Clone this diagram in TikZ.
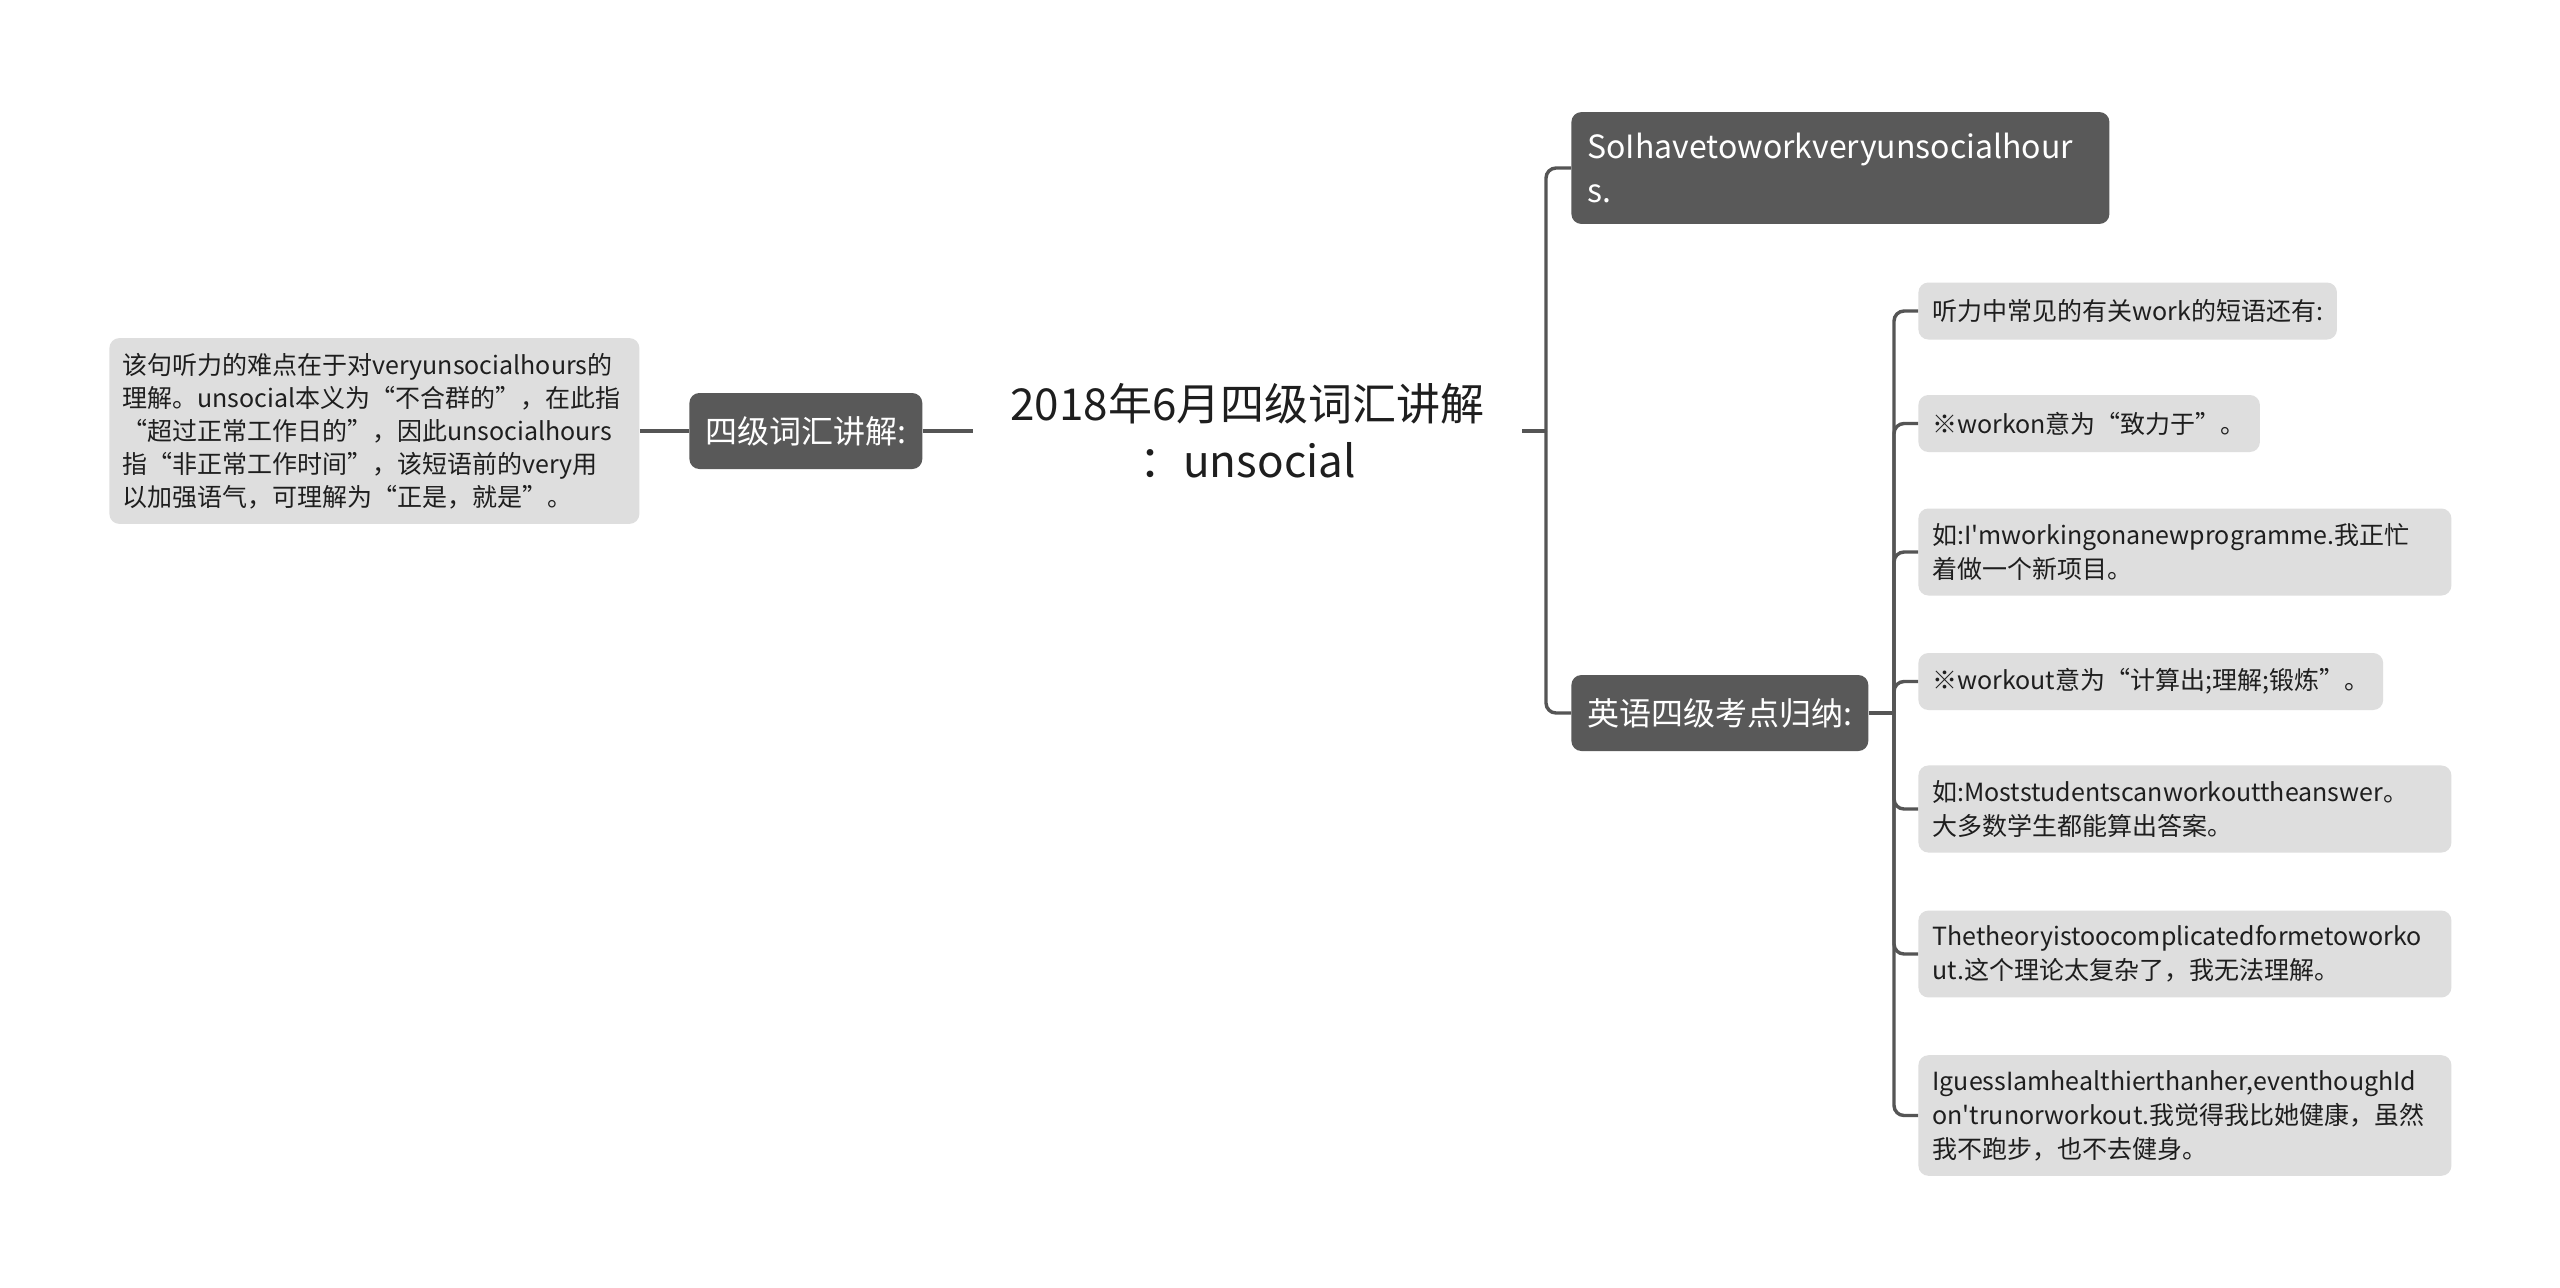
\documentclass[tikz,border=0pt]{standalone}
\usepackage{fontspec}
\setmainfont{Noto Sans CJK SC}[Ligatures=TeXOff]
\usepackage{tikz}
\usetikzlibrary{positioning}
\definecolor{topicGray}{HTML}{595959}
\definecolor{leafGray}{HTML}{DEDEDE}
\definecolor{branchLine}{HTML}{555555}
\definecolor{inkText}{HTML}{1E1E1E}

\begin{document}
\begin{tikzpicture}[x=0.5pt, y=-0.5pt,
  topic/.style={fill=topicGray, rounded corners=5pt, text=white, font=\fontsize{16}{22}\selectfont, inner xsep=8pt, inner ysep=10.5pt, minimum height=38pt, anchor=west, align=left},
  leaf/.style={fill=leafGray, rounded corners=5pt, text=inkText, font=\fontsize{12.5}{17}\selectfont, inner xsep=7pt, inner ysep=7.5pt, minimum height=28.5pt, anchor=west, align=left},
  branch/.style={draw=branchLine, line width=1.7pt, rounded corners=5pt}
]
  \fill[white] (0,0) rectangle (2560,1287);
  \useasboundingbox (0,0) rectangle (2560,1287);

  % centre and left side
  \node[text=inkText, font=\fontsize{22}{28.5}\selectfont, align=center, minimum width=274.5pt, inner sep=0pt] (title) at (1247.5,431) {2018年6月四级词汇讲解\\：unsocial};
  \node[topic] (vocab) at (689,431) {四级词汇讲解:};
  \node[leaf, font=\fontsize{12.5}{16.5}\selectfont, text width=252pt, inner xsep=6.5pt, inner ysep=7.5pt] (explain) at (109,431) {该句听力的难点在于对veryunsocialhours的\\理解。unsocial本义为“不合群的”，在此指\\“超过正常工作日的”，因此unsocialhours\\指“非正常工作时间”，该短语前的very用\\以加强语气，可理解为“正是，就是”。};

  % right side
  \node[topic, text width=253pt] (sentence) at (1571,168) {SoIhavetoworkveryunsocialhour\\s.};
  \node[topic] (exam) at (1571,713) {英语四级考点归纳:};

  \node[leaf] (phrase) at (1918,311) {听力中常见的有关work的短语还有:};
  \node[leaf] (workon) at (1918,423.5) {※workon意为“致力于”。};
  \node[leaf, text width=252.5pt] (onEx) at (1918,552) {如:I'mworkingonanewprogramme.我正忙\\着做一个新项目。};
  \node[leaf] (workout) at (1918,681.5) {※workout意为“计算出;理解;锻炼”。};
  \node[leaf, text width=252.5pt] (outEx) at (1918,809) {如:Moststudentscanworkouttheanswer。\\大多数学生都能算出答案。};
  \node[leaf, text width=252.5pt] (theory) at (1918,954) {Thetheoryistoocomplicatedformetoworko\\ut.这个理论太复杂了，我无法理解。};
  \node[leaf, text width=252.5pt] (healthy) at (1918,1115.5) {IguessIamhealthierthanher,eventhoughId\\on'trunorworkout.我觉得我比她健康，虽然\\我不跑步，也不去健身。};

  \coordinate (rootFork) at (1546,431);
  \coordinate (examFork) at (1894,713);

  \draw[branch] (explain.east) -- (vocab.west);
  \draw[branch] (vocab.east) -- (title.west);
  \draw[branch] (title.east) -- (rootFork);
  \draw[branch] (rootFork) |- (sentence.west);
  \draw[branch] (rootFork) |- (exam.west);
  \draw[branch] (exam.east) -- (examFork);
  \foreach \leafname in {phrase,workon,onEx,workout,outEx,theory,healthy}
    \draw[branch] (examFork) |- (\leafname.west);
\end{tikzpicture}
\end{document}
